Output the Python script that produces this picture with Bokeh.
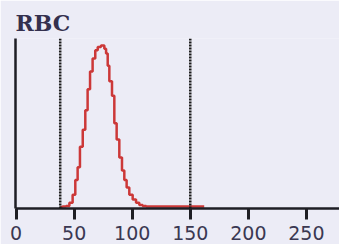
from bokeh.plotting import figure
from bokeh.models import Range1d, Span, FixedTicker
from bokeh.embed import file_html
from bokeh.resources import INLINE

# Histogram (size in fL vs relative count, % of peak)
size_fl = [38, 40, 43, 45.9, 48.7, 51.0, 53.0, 55.0, 57.4, 59.6, 61.6, 63.7, 65.9, 68.2,
           70.3, 73.1, 76.0, 77.5, 78.9, 80.3, 82.6, 84.6, 86.6, 88.9, 91.2, 93.2, 95.2,
           97.5, 100.4, 103.3, 106.1, 109.0, 112.0, 130.0, 150.0, 162.0]
counts = [0.5, 0.8, 1, 3, 8, 17, 25, 37.5, 48, 60, 73, 84, 92, 97,
          99, 100, 98, 95, 87.5, 78, 69, 52, 42, 31, 23, 17, 12.5,
          8, 5, 3, 1.7, 1.0, 0.8, 0.8, 0.8, 0.8]
gates = [38, 150]
ticks = [0, 50, 100, 150, 200, 250]

bg = "#ececf6"
p = figure(width=339, height=244, output_backend="svg", toolbar_location=None,
           x_range=Range1d(-0.5, 278.5), y_range=Range1d(-0.5, 104.3),
           background_fill_color=bg, border_fill_color=bg,
           min_border_left=15, min_border_right=0, min_border_top=38, min_border_bottom=36,
           outline_line_color=None)

p.title.text = "RBC"
p.title.text_font = "DejaVu Serif"
p.title.text_font_style = "bold"
p.title.text_font_size = "22px"
p.title.text_color = "#34304e"
p.title.offset = 0
p.title.standoff = 6

p.grid.visible = False

p.xaxis.ticker = FixedTicker(ticks=ticks)
p.xaxis.axis_line_width = 2.5
p.xaxis.axis_line_color = "#1e1e24"
p.xaxis.major_tick_line_width = 3
p.xaxis.major_tick_line_color = "#1e1e24"
p.xaxis.major_tick_out = 11
p.xaxis.major_tick_in = 0
p.xaxis.minor_tick_line_color = None
p.xaxis.major_label_text_font = "DejaVu Sans"
p.xaxis.major_label_text_font_size = "19px"
p.xaxis.major_label_text_color = "#3a3852"
p.xaxis.major_label_standoff = 6

p.yaxis.ticker = FixedTicker(ticks=[])
p.yaxis.axis_line_width = 2.5
p.yaxis.axis_line_color = "#1e1e24"
p.yaxis.major_tick_line_color = None
p.yaxis.minor_tick_line_color = None
p.yaxis.major_label_standoff = 0
p.yaxis.major_tick_out = 0

for g in gates:
    p.add_layout(Span(location=g, dimension="height", line_color="#1a1a1a",
                      line_width=2.5, line_dash="2 1"))

p.step(size_fl, counts, mode="after", line_color="#cc3838", line_width=2.5)

open("out.html", "w").write(file_html(p, INLINE))
